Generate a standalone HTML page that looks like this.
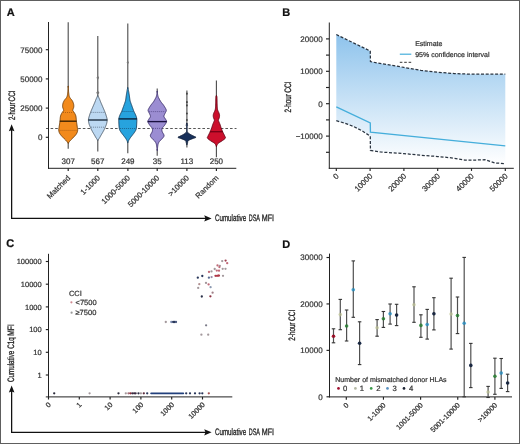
<!DOCTYPE html>
<html><head><meta charset="utf-8"><style>
html,body{margin:0;padding:0;background:#fff;}
#f{position:relative;width:518px;height:442px;border:1px solid #5e5e5e;overflow:hidden;}
svg{position:absolute;left:-1px;top:-1px;will-change:transform;text-rendering:geometricPrecision;}
</style></head><body><div id="f">
<svg width="520" height="444" viewBox="0 0 520 444" font-family="Liberation Sans, sans-serif">
<text x="6.7" y="15.7" font-size="11" fill="#111" stroke="#111" stroke-width="0.22" font-weight="bold">A</text>
<line x1="46" y1="128.5" x2="236.5" y2="128.5" stroke="#444" stroke-width="0.9" stroke-dasharray="2.6,2"/>
<line x1="68.2" y1="22.2" x2="68.2" y2="87.5" stroke="#4a4a4a" stroke-width="1.1"/>
<line x1="68.2" y1="141.8" x2="68.2" y2="148.8" stroke="#4a4a4a" stroke-width="1.1"/>
<polygon points="68.35,86.00 68.35,86.54 68.35,87.30 68.35,88.20 68.40,89.14 68.45,90.04 68.50,90.80 68.55,91.44 68.61,92.02 68.67,92.56 68.73,93.07 68.79,93.54 68.85,94.00 68.91,94.43 68.96,94.82 69.02,95.19 69.08,95.53 69.15,95.87 69.25,96.20 69.36,96.52 69.49,96.83 69.63,97.13 69.79,97.41 69.96,97.70 70.15,98.00 70.37,98.30 70.62,98.60 70.89,98.90 71.16,99.20 71.42,99.50 71.65,99.80 71.86,100.09 72.05,100.37 72.24,100.64 72.41,100.93 72.58,101.25 72.75,101.60 72.92,102.00 73.09,102.43 73.26,102.89 73.42,103.37 73.55,103.84 73.65,104.30 73.72,104.76 73.77,105.22 73.80,105.68 73.81,106.14 73.79,106.58 73.75,107.00 73.67,107.40 73.56,107.80 73.42,108.18 73.28,108.54 73.15,108.89 73.05,109.20 72.97,109.48 72.89,109.71 72.83,109.92 72.79,110.13 72.79,110.35 72.85,110.60 72.98,110.86 73.16,111.10 73.38,111.36 73.63,111.65 73.89,111.99 74.15,112.40 74.42,112.88 74.73,113.40 75.04,113.97 75.35,114.60 75.63,115.28 75.85,116.00 76.01,116.80 76.12,117.67 76.21,118.59 76.28,119.53 76.35,120.48 76.45,121.40 76.58,122.32 76.72,123.26 76.86,124.21 77.01,125.13 77.14,126.00 77.25,126.80 77.36,127.52 77.48,128.17 77.58,128.77 77.66,129.34 77.69,129.91 77.65,130.50 77.55,131.09 77.41,131.67 77.23,132.25 76.99,132.83 76.70,133.41 76.35,134.00 75.92,134.62 75.41,135.26 74.84,135.90 74.25,136.53 73.68,137.14 73.15,137.70 72.66,138.22 72.17,138.71 71.69,139.17 71.24,139.60 70.82,140.01 70.45,140.40 70.12,140.76 69.83,141.09 69.58,141.40 69.35,141.69 69.14,141.95 68.95,142.20 68.78,142.44 68.63,142.66 68.51,142.86 68.40,143.04 68.35,143.19 68.35,143.30 68.05,143.30 68.05,143.19 68.00,143.04 67.89,142.86 67.77,142.66 67.62,142.44 67.45,142.20 67.26,141.95 67.05,141.69 66.83,141.40 66.57,141.09 66.28,140.76 65.95,140.40 65.58,140.01 65.16,139.60 64.71,139.17 64.23,138.71 63.74,138.22 63.25,137.70 62.72,137.14 62.15,136.53 61.56,135.90 60.99,135.26 60.48,134.62 60.05,134.00 59.70,133.41 59.41,132.83 59.17,132.25 58.99,131.67 58.85,131.09 58.75,130.50 58.71,129.91 58.74,129.34 58.82,128.77 58.92,128.17 59.04,127.52 59.15,126.80 59.26,126.00 59.39,125.13 59.54,124.21 59.68,123.26 59.82,122.32 59.95,121.40 60.05,120.48 60.12,119.53 60.19,118.59 60.28,117.67 60.39,116.80 60.55,116.00 60.77,115.28 61.05,114.60 61.36,113.97 61.67,113.40 61.98,112.88 62.25,112.40 62.51,111.99 62.77,111.65 63.02,111.36 63.24,111.10 63.42,110.86 63.55,110.60 63.61,110.35 63.61,110.13 63.58,109.92 63.51,109.71 63.43,109.48 63.35,109.20 63.25,108.89 63.12,108.54 62.98,108.18 62.84,107.80 62.73,107.40 62.65,107.00 62.61,106.58 62.59,106.14 62.60,105.68 62.63,105.22 62.68,104.76 62.75,104.30 62.85,103.84 62.98,103.37 63.14,102.89 63.31,102.43 63.48,102.00 63.65,101.60 63.82,101.25 63.99,100.93 64.16,100.64 64.35,100.37 64.54,100.09 64.75,99.80 64.98,99.50 65.24,99.20 65.51,98.90 65.78,98.60 66.03,98.30 66.25,98.00 66.44,97.70 66.61,97.41 66.77,97.13 66.91,96.83 67.04,96.52 67.15,96.20 67.25,95.87 67.32,95.53 67.38,95.19 67.44,94.82 67.49,94.43 67.55,94.00 67.61,93.54 67.67,93.07 67.73,92.56 67.79,92.02 67.85,91.44 67.90,90.80 67.95,90.04 68.00,89.14 68.05,88.20 68.05,87.30 68.05,86.54 68.05,86.00" fill="#f28a1c" stroke="#6e3c08" stroke-width="0.9" stroke-linejoin="round"/>
<line x1="62.99" y1="112.5" x2="73.41" y2="112.5" stroke="#8a4a10" stroke-width="0.6" stroke-dasharray="1,1"/>
<line x1="59.54" y1="130.4" x2="76.86" y2="130.4" stroke="#8a4a10" stroke-width="0.6" stroke-dasharray="1,1"/>
<line x1="59.77" y1="121.2" x2="76.63" y2="121.2" stroke="#3a2000" stroke-width="1.35"/>
<line x1="97.8" y1="35.9" x2="97.8" y2="97.0" stroke="#4a4a4a" stroke-width="1.1"/>
<polygon points="97.8,75.5 99.1,77.7 97.8,79.9 96.5,77.7" fill="#777"/>
<polygon points="97.8,90.6 99.39999999999999,92.8 97.8,95.0 96.2,92.8" fill="#777"/>
<line x1="97.8" y1="139.1" x2="97.8" y2="151.6" stroke="#4a4a4a" stroke-width="1.1"/>
<polygon points="97.95,95.50 97.95,95.65 98.02,95.86 98.13,96.10 98.26,96.38 98.40,96.68 98.55,97.00 98.71,97.35 98.89,97.73 99.08,98.13 99.28,98.55 99.47,98.98 99.65,99.40 99.82,99.82 99.98,100.24 100.14,100.66 100.30,101.10 100.47,101.54 100.65,102.00 100.85,102.47 101.05,102.95 101.27,103.44 101.49,103.95 101.72,104.47 101.95,105.00 102.19,105.56 102.44,106.14 102.69,106.73 102.95,107.33 103.20,107.92 103.45,108.50 103.69,109.06 103.93,109.60 104.16,110.14 104.39,110.68 104.62,111.23 104.85,111.80 105.08,112.39 105.30,112.99 105.52,113.59 105.74,114.21 105.95,114.85 106.15,115.50 106.35,116.18 106.56,116.88 106.76,117.59 106.94,118.31 107.07,119.02 107.15,119.70 107.16,120.36 107.12,121.01 107.04,121.66 106.92,122.29 106.79,122.90 106.65,123.50 106.49,124.09 106.30,124.66 106.09,125.22 105.88,125.76 105.66,126.29 105.45,126.80 105.25,127.28 105.06,127.74 104.87,128.18 104.67,128.61 104.47,129.05 104.25,129.50 104.02,129.96 103.78,130.43 103.52,130.90 103.27,131.37 103.01,131.84 102.75,132.30 102.49,132.76 102.22,133.21 101.95,133.66 101.68,134.10 101.41,134.55 101.15,135.00 100.89,135.46 100.63,135.94 100.37,136.42 100.12,136.88 99.88,137.31 99.65,137.70 99.44,138.03 99.24,138.33 99.05,138.59 98.87,138.83 98.71,139.06 98.55,139.30 98.40,139.55 98.26,139.80 98.13,140.05 98.02,140.27 97.95,140.46 97.95,140.60 97.65,140.60 97.65,140.46 97.58,140.27 97.47,140.05 97.34,139.80 97.20,139.55 97.05,139.30 96.89,139.06 96.73,138.83 96.55,138.59 96.36,138.33 96.16,138.03 95.95,137.70 95.72,137.31 95.48,136.88 95.23,136.42 94.97,135.94 94.71,135.46 94.45,135.00 94.19,134.55 93.92,134.10 93.65,133.66 93.38,133.21 93.11,132.76 92.85,132.30 92.59,131.84 92.33,131.37 92.08,130.90 91.82,130.43 91.58,129.96 91.35,129.50 91.13,129.05 90.93,128.61 90.73,128.18 90.54,127.74 90.35,127.28 90.15,126.80 89.94,126.29 89.72,125.76 89.51,125.22 89.30,124.66 89.11,124.09 88.95,123.50 88.81,122.90 88.68,122.29 88.56,121.66 88.48,121.01 88.44,120.36 88.45,119.70 88.53,119.02 88.66,118.31 88.84,117.59 89.04,116.88 89.25,116.18 89.45,115.50 89.65,114.85 89.86,114.21 90.08,113.59 90.30,112.99 90.52,112.39 90.75,111.80 90.98,111.23 91.21,110.68 91.44,110.14 91.67,109.60 91.91,109.06 92.15,108.50 92.40,107.92 92.65,107.33 92.91,106.73 93.16,106.14 93.41,105.56 93.65,105.00 93.88,104.47 94.11,103.95 94.33,103.44 94.55,102.95 94.75,102.47 94.95,102.00 95.13,101.54 95.30,101.10 95.46,100.66 95.62,100.24 95.78,99.82 95.95,99.40 96.13,98.98 96.32,98.55 96.52,98.13 96.71,97.73 96.89,97.35 97.05,97.00 97.20,96.68 97.34,96.38 97.47,96.10 97.58,95.86 97.65,95.65 97.65,95.50" fill="#bcd8f2" stroke="#4a5866" stroke-width="0.9" stroke-linejoin="round"/>
<line x1="91.32" y1="112.4" x2="104.28" y2="112.4" stroke="#3a4a5a" stroke-width="0.6" stroke-dasharray="1,1"/>
<line x1="91.11" y1="127.2" x2="104.49" y2="127.2" stroke="#3a4a5a" stroke-width="0.6" stroke-dasharray="1,1"/>
<line x1="88.24" y1="120.0" x2="107.36" y2="120.0" stroke="#1a2a3a" stroke-width="1.35"/>
<line x1="127.8" y1="23.6" x2="127.8" y2="89.0" stroke="#4a4a4a" stroke-width="1.1"/>
<polygon points="127.8,60.3 128.8,62.5 127.8,64.7 126.8,62.5" fill="#777"/>
<line x1="127.8" y1="141.3" x2="127.8" y2="153.3" stroke="#4a4a4a" stroke-width="1.1"/>
<polygon points="127.95,87.50 127.95,87.67 127.95,87.88 128.01,88.14 128.09,88.45 128.17,88.80 128.25,89.20 128.34,89.65 128.44,90.16 128.54,90.72 128.64,91.30 128.75,91.90 128.85,92.50 128.95,93.10 129.05,93.71 129.15,94.34 129.25,94.99 129.35,95.64 129.45,96.30 129.55,97.00 129.64,97.73 129.74,98.48 129.84,99.21 129.94,99.89 130.05,100.50 130.17,101.02 130.30,101.46 130.43,101.86 130.57,102.23 130.71,102.60 130.85,103.00 130.99,103.42 131.14,103.83 131.29,104.25 131.45,104.67 131.60,105.08 131.75,105.50 131.90,105.91 132.04,106.30 132.18,106.69 132.32,107.09 132.48,107.53 132.65,108.00 132.84,108.53 133.04,109.09 133.25,109.69 133.47,110.30 133.71,110.91 133.95,111.50 134.22,112.08 134.51,112.66 134.81,113.24 135.11,113.83 135.40,114.41 135.65,115.00 135.88,115.59 136.10,116.17 136.31,116.75 136.49,117.34 136.64,117.96 136.75,118.60 136.82,119.26 136.85,119.93 136.85,120.61 136.83,121.33 136.79,122.09 136.75,122.90 136.71,123.81 136.65,124.82 136.59,125.88 136.50,126.91 136.39,127.87 136.25,128.70 136.08,129.37 135.88,129.94 135.66,130.42 135.41,130.87 135.14,131.32 134.85,131.80 134.53,132.31 134.17,132.82 133.79,133.33 133.41,133.83 133.02,134.32 132.65,134.80 132.29,135.27 131.92,135.74 131.56,136.19 131.20,136.64 130.86,137.08 130.55,137.50 130.26,137.91 129.98,138.32 129.72,138.71 129.48,139.09 129.25,139.46 129.05,139.80 128.87,140.12 128.72,140.43 128.58,140.71 128.46,140.99 128.35,141.25 128.25,141.50 128.16,141.75 128.07,142.01 128.00,142.26 127.95,142.48 127.95,142.66 127.95,142.80 127.65,142.80 127.65,142.66 127.65,142.48 127.60,142.26 127.53,142.01 127.44,141.75 127.35,141.50 127.25,141.25 127.14,140.99 127.02,140.71 126.88,140.43 126.73,140.12 126.55,139.80 126.35,139.46 126.12,139.09 125.88,138.71 125.62,138.32 125.34,137.91 125.05,137.50 124.74,137.08 124.40,136.64 124.04,136.19 123.68,135.74 123.31,135.27 122.95,134.80 122.58,134.32 122.19,133.83 121.81,133.33 121.43,132.82 121.07,132.31 120.75,131.80 120.46,131.32 120.19,130.87 119.94,130.42 119.72,129.94 119.52,129.37 119.35,128.70 119.21,127.87 119.10,126.91 119.01,125.88 118.95,124.82 118.89,123.81 118.85,122.90 118.81,122.09 118.77,121.33 118.75,120.61 118.75,119.93 118.78,119.26 118.85,118.60 118.96,117.96 119.11,117.34 119.29,116.75 119.50,116.17 119.72,115.59 119.95,115.00 120.20,114.41 120.49,113.83 120.79,113.24 121.09,112.66 121.38,112.08 121.65,111.50 121.89,110.91 122.13,110.30 122.35,109.69 122.56,109.09 122.76,108.53 122.95,108.00 123.12,107.53 123.28,107.09 123.42,106.69 123.56,106.30 123.70,105.91 123.85,105.50 124.00,105.08 124.15,104.67 124.31,104.25 124.46,103.83 124.61,103.42 124.75,103.00 124.89,102.60 125.03,102.23 125.17,101.86 125.30,101.46 125.43,101.02 125.55,100.50 125.66,99.89 125.76,99.21 125.86,98.48 125.96,97.73 126.05,97.00 126.15,96.30 126.25,95.64 126.35,94.99 126.45,94.34 126.55,93.71 126.65,93.10 126.75,92.50 126.85,91.90 126.96,91.30 127.06,90.72 127.16,90.16 127.26,89.65 127.35,89.20 127.43,88.80 127.51,88.45 127.59,88.14 127.65,87.88 127.65,87.67 127.65,87.50" fill="#27a3de" stroke="#143c5c" stroke-width="0.9" stroke-linejoin="round"/>
<line x1="122.45" y1="111.5" x2="133.15" y2="111.5" stroke="#143c5c" stroke-width="0.6" stroke-dasharray="1,1"/>
<line x1="120.12" y1="128.5" x2="135.48" y2="128.5" stroke="#143c5c" stroke-width="0.6" stroke-dasharray="1,1"/>
<line x1="118.62" y1="118.9" x2="136.98" y2="118.9" stroke="#0a2038" stroke-width="1.35"/>
<line x1="157.2" y1="88.4" x2="157.2" y2="92.5" stroke="#4a4a4a" stroke-width="1.1"/>
<line x1="157.2" y1="149.0" x2="157.2" y2="155.8" stroke="#4a4a4a" stroke-width="1.1"/>
<polygon points="157.35,91.00 157.35,91.38 157.35,91.92 157.35,92.56 157.40,93.22 157.50,93.86 157.60,94.40 157.69,94.86 157.78,95.29 157.87,95.68 157.96,96.05 158.06,96.39 158.15,96.70 158.23,96.95 158.29,97.12 158.36,97.27 158.44,97.43 158.57,97.66 158.75,98.00 158.99,98.47 159.28,99.03 159.61,99.66 159.97,100.31 160.35,100.97 160.75,101.60 161.18,102.20 161.65,102.80 162.14,103.40 162.63,104.00 163.11,104.60 163.55,105.20 163.97,105.82 164.39,106.46 164.79,107.10 165.16,107.72 165.49,108.29 165.75,108.80 165.95,109.21 166.11,109.55 166.22,109.84 166.29,110.12 166.30,110.43 166.25,110.80 166.12,111.25 165.91,111.74 165.64,112.26 165.35,112.79 165.08,113.31 164.85,113.80 164.64,114.27 164.42,114.72 164.21,115.17 164.05,115.61 163.95,116.05 163.95,116.50 164.08,116.95 164.32,117.41 164.63,117.87 164.97,118.32 165.29,118.77 165.55,119.20 165.78,119.60 166.04,119.98 166.27,120.34 166.45,120.72 166.56,121.13 166.55,121.60 166.41,122.14 166.15,122.73 165.82,123.35 165.44,123.99 165.03,124.61 164.65,125.20 164.24,125.76 163.77,126.30 163.28,126.83 162.82,127.36 162.43,127.88 162.15,128.40 161.98,128.91 161.89,129.40 161.88,129.89 161.92,130.40 162.01,130.93 162.15,131.50 162.40,132.14 162.78,132.83 163.22,133.55 163.63,134.27 163.93,134.96 164.05,135.60 163.96,136.18 163.73,136.72 163.39,137.24 162.98,137.73 162.56,138.22 162.15,138.70 161.73,139.17 161.26,139.63 160.77,140.07 160.28,140.51 159.83,140.95 159.45,141.40 159.14,141.84 158.87,142.27 158.64,142.69 158.44,143.13 158.26,143.60 158.10,144.10 157.96,144.66 157.86,145.26 157.77,145.89 157.70,146.53 157.63,147.14 157.55,147.70 157.46,148.25 157.36,148.80 157.35,149.32 157.35,149.80 157.35,150.20 157.35,150.50 157.05,150.50 157.05,150.20 157.05,149.80 157.05,149.32 157.04,148.80 156.94,148.25 156.85,147.70 156.77,147.14 156.70,146.53 156.63,145.89 156.54,145.26 156.44,144.66 156.30,144.10 156.14,143.60 155.96,143.13 155.76,142.69 155.53,142.27 155.26,141.84 154.95,141.40 154.57,140.95 154.12,140.51 153.63,140.07 153.14,139.63 152.67,139.17 152.25,138.70 151.84,138.22 151.42,137.73 151.01,137.24 150.67,136.72 150.44,136.18 150.35,135.60 150.47,134.96 150.77,134.27 151.18,133.55 151.62,132.83 152.00,132.14 152.25,131.50 152.39,130.93 152.48,130.40 152.52,129.89 152.51,129.40 152.42,128.91 152.25,128.40 151.97,127.88 151.58,127.36 151.12,126.83 150.63,126.30 150.16,125.76 149.75,125.20 149.37,124.61 148.96,123.99 148.58,123.35 148.25,122.73 147.99,122.14 147.85,121.60 147.84,121.13 147.95,120.72 148.13,120.34 148.36,119.98 148.62,119.60 148.85,119.20 149.11,118.77 149.43,118.32 149.77,117.87 150.08,117.41 150.32,116.95 150.45,116.50 150.45,116.05 150.35,115.61 150.19,115.17 149.98,114.72 149.76,114.27 149.55,113.80 149.32,113.31 149.05,112.79 148.76,112.26 148.49,111.74 148.28,111.25 148.15,110.80 148.10,110.43 148.11,110.12 148.17,109.84 148.29,109.55 148.45,109.21 148.65,108.80 148.91,108.29 149.24,107.72 149.61,107.10 150.01,106.46 150.43,105.82 150.85,105.20 151.29,104.60 151.77,104.00 152.26,103.40 152.75,102.80 153.22,102.20 153.65,101.60 154.05,100.97 154.43,100.31 154.79,99.66 155.12,99.03 155.41,98.47 155.65,98.00 155.83,97.66 155.96,97.43 156.04,97.27 156.11,97.12 156.17,96.95 156.25,96.70 156.34,96.39 156.44,96.05 156.53,95.68 156.62,95.29 156.71,94.86 156.80,94.40 156.90,93.86 157.00,93.22 157.05,92.56 157.05,91.92 157.05,91.38 157.05,91.00" fill="#9b8dd2" stroke="#3a2c6a" stroke-width="0.9" stroke-linejoin="round"/>
<line x1="149.23" y1="111.6" x2="165.17" y2="111.6" stroke="#3a2c6a" stroke-width="0.6" stroke-dasharray="1,1"/>
<line x1="153.05" y1="128.4" x2="161.35" y2="128.4" stroke="#3a2c6a" stroke-width="0.6" stroke-dasharray="1,1"/>
<line x1="147.65" y1="121.6" x2="166.75" y2="121.6" stroke="#1a1040" stroke-width="1.35"/>
<ellipse cx="186.9" cy="93.7" rx="0.9" ry="1.1" fill="#333"/>
<ellipse cx="186.9" cy="102.2" rx="0.9" ry="1.1" fill="#333"/>
<ellipse cx="186.9" cy="105.4" rx="0.9" ry="1.1" fill="#333"/>
<ellipse cx="186.9" cy="113.5" rx="0.9" ry="1.1" fill="#333"/>
<ellipse cx="186.9" cy="120" rx="0.9" ry="1.1" fill="#333"/>
<line x1="186.9" y1="90.5" x2="186.9" y2="124.5" stroke="#4a4a4a" stroke-width="1.1"/>
<line x1="186.9" y1="143.3" x2="186.9" y2="147.5" stroke="#4a4a4a" stroke-width="1.1"/>
<polygon points="187.05,123.00 187.05,123.24 187.05,123.59 187.18,123.99 187.35,124.41 187.49,124.83 187.55,125.20 187.53,125.51 187.44,125.79 187.32,126.05 187.19,126.33 187.07,126.64 187.05,127.00 187.05,127.44 187.05,127.93 187.05,128.46 187.05,129.00 187.05,129.52 187.05,130.00 187.09,130.44 187.13,130.86 187.18,131.26 187.27,131.64 187.42,132.02 187.65,132.40 187.98,132.77 188.39,133.13 188.87,133.49 189.38,133.83 189.92,134.17 190.45,134.50 191.01,134.83 191.63,135.15 192.26,135.46 192.88,135.76 193.45,136.04 193.95,136.30 194.42,136.52 194.90,136.70 195.34,136.87 195.67,137.03 195.85,137.20 195.80,137.40 195.47,137.62 194.90,137.86 194.17,138.11 193.36,138.36 192.56,138.63 191.85,138.90 191.20,139.17 190.52,139.45 189.85,139.74 189.23,140.04 188.68,140.36 188.25,140.70 187.95,141.09 187.77,141.51 187.67,141.96 187.61,142.41 187.55,142.83 187.45,143.20 187.32,143.54 187.18,143.86 187.05,144.16 187.05,144.42 187.05,144.64 187.05,144.80 186.75,144.80 186.75,144.64 186.75,144.42 186.75,144.16 186.62,143.86 186.48,143.54 186.35,143.20 186.25,142.83 186.19,142.41 186.13,141.96 186.03,141.51 185.85,141.09 185.55,140.70 185.12,140.36 184.57,140.04 183.95,139.74 183.28,139.45 182.60,139.17 181.95,138.90 181.24,138.63 180.44,138.36 179.63,138.11 178.90,137.86 178.33,137.62 178.00,137.40 177.95,137.20 178.13,137.03 178.46,136.87 178.90,136.70 179.38,136.52 179.85,136.30 180.35,136.04 180.92,135.76 181.54,135.46 182.17,135.15 182.79,134.83 183.35,134.50 183.88,134.17 184.42,133.83 184.93,133.49 185.41,133.13 185.82,132.77 186.15,132.40 186.38,132.02 186.53,131.64 186.62,131.26 186.67,130.86 186.71,130.44 186.75,130.00 186.75,129.52 186.75,129.00 186.75,128.46 186.75,127.93 186.75,127.44 186.75,127.00 186.73,126.64 186.61,126.33 186.48,126.05 186.36,125.79 186.27,125.51 186.25,125.20 186.31,124.83 186.45,124.41 186.62,123.99 186.75,123.59 186.75,123.24 186.75,123.00" fill="#17305a" stroke="#0a1a34" stroke-width="0.9" stroke-linejoin="round"/>
<line x1="216.4" y1="80.4" x2="216.4" y2="97.0" stroke="#4a4a4a" stroke-width="1.1"/>
<line x1="216.4" y1="145.1" x2="216.4" y2="157.3" stroke="#4a4a4a" stroke-width="1.1"/>
<polygon points="216.55,95.50 216.55,95.65 216.59,95.83 216.69,96.06 216.79,96.33 216.88,96.65 216.95,97.00 216.99,97.39 217.01,97.81 217.03,98.28 217.03,98.80 217.04,99.37 217.05,100.00 217.06,100.73 217.08,101.56 217.09,102.44 217.10,103.33 217.12,104.20 217.15,105.00 217.18,105.75 217.22,106.47 217.26,107.17 217.31,107.84 217.37,108.45 217.45,109.00 217.54,109.47 217.65,109.87 217.76,110.22 217.89,110.55 218.02,110.87 218.15,111.20 218.29,111.54 218.45,111.88 218.61,112.21 218.77,112.54 218.92,112.87 219.05,113.20 219.16,113.53 219.27,113.86 219.37,114.18 219.45,114.51 219.51,114.85 219.55,115.20 219.56,115.57 219.56,115.95 219.53,116.34 219.49,116.74 219.43,117.12 219.35,117.50 219.24,117.87 219.10,118.26 218.94,118.63 218.79,118.99 218.65,119.32 218.55,119.60 218.48,119.82 218.43,119.98 218.40,120.11 218.39,120.24 218.41,120.39 218.45,120.60 218.53,120.86 218.64,121.14 218.78,121.45 218.94,121.78 219.09,122.13 219.25,122.50 219.40,122.88 219.56,123.29 219.73,123.71 219.90,124.15 220.08,124.61 220.25,125.10 220.42,125.61 220.59,126.16 220.76,126.72 220.94,127.30 221.14,127.90 221.35,128.50 221.58,129.12 221.84,129.77 222.10,130.42 222.38,131.09 222.66,131.75 222.95,132.40 223.27,133.06 223.61,133.74 223.97,134.42 224.31,135.07 224.61,135.67 224.85,136.20 225.05,136.63 225.24,136.98 225.39,137.27 225.47,137.56 225.45,137.85 225.30,138.20 224.99,138.60 224.54,139.03 223.99,139.47 223.38,139.93 222.75,140.37 222.15,140.80 221.53,141.22 220.84,141.64 220.13,142.05 219.46,142.45 218.85,142.84 218.35,143.20 217.98,143.54 217.71,143.85 217.50,144.15 217.34,144.44 217.20,144.72 217.05,145.00 216.90,145.30 216.78,145.61 216.67,145.91 216.58,146.19 216.55,146.43 216.55,146.60 216.25,146.60 216.25,146.43 216.22,146.19 216.13,145.91 216.02,145.61 215.90,145.30 215.75,145.00 215.60,144.72 215.46,144.44 215.30,144.15 215.09,143.85 214.82,143.54 214.45,143.20 213.95,142.84 213.34,142.45 212.67,142.05 211.96,141.64 211.27,141.22 210.65,140.80 210.05,140.37 209.42,139.93 208.81,139.47 208.26,139.03 207.81,138.60 207.50,138.20 207.35,137.85 207.33,137.56 207.41,137.27 207.56,136.98 207.75,136.63 207.95,136.20 208.19,135.67 208.49,135.07 208.83,134.42 209.19,133.74 209.53,133.06 209.85,132.40 210.14,131.75 210.42,131.09 210.70,130.42 210.96,129.77 211.22,129.12 211.45,128.50 211.66,127.90 211.86,127.30 212.04,126.72 212.21,126.16 212.38,125.61 212.55,125.10 212.72,124.61 212.90,124.15 213.07,123.71 213.24,123.29 213.40,122.88 213.55,122.50 213.71,122.13 213.86,121.78 214.02,121.45 214.16,121.14 214.27,120.86 214.35,120.60 214.39,120.39 214.41,120.24 214.40,120.11 214.37,119.98 214.32,119.82 214.25,119.60 214.15,119.32 214.01,118.99 213.86,118.63 213.70,118.26 213.56,117.87 213.45,117.50 213.37,117.12 213.31,116.74 213.27,116.34 213.24,115.95 213.24,115.57 213.25,115.20 213.29,114.85 213.35,114.51 213.43,114.18 213.53,113.86 213.64,113.53 213.75,113.20 213.88,112.87 214.03,112.54 214.19,112.21 214.35,111.88 214.51,111.54 214.65,111.20 214.78,110.87 214.91,110.55 215.04,110.22 215.15,109.87 215.26,109.47 215.35,109.00 215.43,108.45 215.49,107.84 215.54,107.17 215.58,106.47 215.62,105.75 215.65,105.00 215.68,104.20 215.70,103.33 215.71,102.44 215.72,101.56 215.74,100.73 215.75,100.00 215.76,99.37 215.77,98.80 215.78,98.28 215.79,97.81 215.81,97.39 215.85,97.00 215.92,96.65 216.01,96.33 216.11,96.06 216.21,95.83 216.25,95.65 216.25,95.50" fill="#cc0f2c" stroke="#600012" stroke-width="0.9" stroke-linejoin="round"/>
<line x1="209.96" y1="131.7" x2="222.84" y2="131.7" stroke="#7a0016" stroke-width="1.35"/>
<line x1="48.5" y1="22" x2="48.5" y2="168.8" stroke="#222" stroke-width="1"/>
<line x1="48.0" y1="168.3" x2="236.3" y2="168.3" stroke="#222" stroke-width="1"/>
<line x1="45.8" y1="49.70000000000002" x2="48.5" y2="49.70000000000002" stroke="#222" stroke-width="1.15"/>
<text x="42.5" y="52.500000000000014" font-size="8" fill="#333" stroke="#333" stroke-width="0.22" text-anchor="end">75000</text>
<line x1="45.8" y1="78.9" x2="48.5" y2="78.9" stroke="#222" stroke-width="1.15"/>
<text x="42.5" y="81.7" font-size="8" fill="#333" stroke="#333" stroke-width="0.22" text-anchor="end">50000</text>
<line x1="45.8" y1="108.10000000000001" x2="48.5" y2="108.10000000000001" stroke="#222" stroke-width="1.15"/>
<text x="42.5" y="110.9" font-size="8" fill="#333" stroke="#333" stroke-width="0.22" text-anchor="end">25000</text>
<line x1="45.8" y1="137.3" x2="48.5" y2="137.3" stroke="#222" stroke-width="1.15"/>
<text x="42.5" y="140.10000000000002" font-size="8" fill="#333" stroke="#333" stroke-width="0.22" text-anchor="end">0</text>
<line x1="68.2" y1="168.3" x2="68.2" y2="171.10000000000002" stroke="#222" stroke-width="1.15"/>
<text x="68.2" y="163.9" font-size="8" fill="#333" stroke="#333" stroke-width="0.22" text-anchor="middle">307</text>
<text transform="translate(70.9,178.4) rotate(-45)" font-size="7.7" fill="#333" stroke="#333" stroke-width="0.22" text-anchor="end">Matched</text>
<line x1="97.8" y1="168.3" x2="97.8" y2="171.10000000000002" stroke="#222" stroke-width="1.15"/>
<text x="97.8" y="163.9" font-size="8" fill="#333" stroke="#333" stroke-width="0.22" text-anchor="middle">567</text>
<text transform="translate(100.5,178.4) rotate(-45)" font-size="7.7" fill="#333" stroke="#333" stroke-width="0.22" text-anchor="end">1-1000</text>
<line x1="127.9" y1="168.3" x2="127.9" y2="171.10000000000002" stroke="#222" stroke-width="1.15"/>
<text x="127.9" y="163.9" font-size="8" fill="#333" stroke="#333" stroke-width="0.22" text-anchor="middle">249</text>
<text transform="translate(130.6,178.4) rotate(-45)" font-size="7.7" fill="#333" stroke="#333" stroke-width="0.22" text-anchor="end">1000-5000</text>
<line x1="157.2" y1="168.3" x2="157.2" y2="171.10000000000002" stroke="#222" stroke-width="1.15"/>
<text x="157.2" y="163.9" font-size="8" fill="#333" stroke="#333" stroke-width="0.22" text-anchor="middle">35</text>
<text transform="translate(159.89999999999998,178.4) rotate(-45)" font-size="7.7" fill="#333" stroke="#333" stroke-width="0.22" text-anchor="end">5000-10000</text>
<line x1="186.9" y1="168.3" x2="186.9" y2="171.10000000000002" stroke="#222" stroke-width="1.15"/>
<text x="186.9" y="163.9" font-size="8" fill="#333" stroke="#333" stroke-width="0.22" text-anchor="middle">113</text>
<text transform="translate(189.6,178.4) rotate(-45)" font-size="7.7" fill="#333" stroke="#333" stroke-width="0.22" text-anchor="end">&gt;10000</text>
<line x1="216.4" y1="168.3" x2="216.4" y2="171.10000000000002" stroke="#222" stroke-width="1.15"/>
<text x="216.4" y="163.9" font-size="8" fill="#333" stroke="#333" stroke-width="0.22" text-anchor="middle">250</text>
<text transform="translate(219.1,178.4) rotate(-45)" font-size="7.7" fill="#333" stroke="#333" stroke-width="0.22" text-anchor="end">Random</text>
<text x="282.2" y="15.6" font-size="11" fill="#111" stroke="#111" stroke-width="0.22" font-weight="bold">B</text>
<defs><linearGradient id="gB" x1="0" y1="0" x2="0" y2="1" gradientUnits="objectBoundingBox"><stop offset="0" stop-color="#8ec3ec"/><stop offset="1" stop-color="#ffffff"/></linearGradient></defs>
<polygon points="336.30,34.53 370.27,51.05 370.44,61.58 376.86,62.88 387.00,64.50 403.90,67.41 420.80,70.33 437.70,72.27 454.60,73.57 471.50,74.22 488.40,74.22 505.30,74.22 505.30,163.64 495.16,162.99 485.02,159.75 474.88,160.08 464.74,160.08 451.22,157.81 437.70,156.51 420.80,155.22 403.90,153.60 393.76,152.95 380.24,151.98 370.44,150.36 370.27,136.10 361.65,130.59 353.20,126.38 344.75,123.14 336.30,120.71" fill="url(#gB)"/>
<polyline points="336.30,34.53 370.27,51.05 370.44,61.58 376.86,62.88 387.00,64.50 403.90,67.41 420.80,70.33 437.70,72.27 454.60,73.57 471.50,74.22 488.40,74.22 505.30,74.22" fill="none" stroke="#2a3440" stroke-width="1.25" stroke-dasharray="3,1.7"/>
<polyline points="336.30,120.71 344.75,123.14 353.20,126.38 361.65,130.59 370.27,136.10 370.44,150.36 380.24,151.98 393.76,152.95 403.90,153.60 420.80,155.22 437.70,156.51 451.22,157.81 464.74,160.08 474.88,160.08 485.02,159.75 495.16,162.99 505.30,163.64" fill="none" stroke="#2a3440" stroke-width="1.25" stroke-dasharray="3,1.7"/>
<polyline points="336.30,106.94 370.27,122.82 370.44,132.21 505.30,145.82" fill="none" stroke="#45aedb" stroke-width="1.35"/>
<line x1="329.3" y1="22.5" x2="329.3" y2="168.8" stroke="#222" stroke-width="1"/>
<line x1="328.8" y1="168.3" x2="513.8" y2="168.3" stroke="#222" stroke-width="1"/>
<line x1="326" y1="38.900000000000006" x2="329.3" y2="38.900000000000006" stroke="#222" stroke-width="1.15"/>
<text x="322.6" y="41.75000000000001" font-size="8" fill="#333" stroke="#333" stroke-width="0.22" text-anchor="end">20000</text>
<line x1="326" y1="55.10000000000001" x2="329.3" y2="55.10000000000001" stroke="#222" stroke-width="1.15"/>
<line x1="326" y1="71.30000000000001" x2="329.3" y2="71.30000000000001" stroke="#222" stroke-width="1.15"/>
<text x="322.6" y="74.15" font-size="8" fill="#333" stroke="#333" stroke-width="0.22" text-anchor="end">10000</text>
<line x1="326" y1="87.5" x2="329.3" y2="87.5" stroke="#222" stroke-width="1.15"/>
<line x1="326" y1="103.7" x2="329.3" y2="103.7" stroke="#222" stroke-width="1.15"/>
<text x="322.6" y="106.55" font-size="8" fill="#333" stroke="#333" stroke-width="0.22" text-anchor="end">0</text>
<line x1="326" y1="119.9" x2="329.3" y2="119.9" stroke="#222" stroke-width="1.15"/>
<line x1="326" y1="136.1" x2="329.3" y2="136.1" stroke="#222" stroke-width="1.15"/>
<text x="322.6" y="138.95" font-size="8" fill="#333" stroke="#333" stroke-width="0.22" text-anchor="end">&#8722;10000</text>
<line x1="326" y1="152.3" x2="329.3" y2="152.3" stroke="#222" stroke-width="1.15"/>
<line x1="336.3" y1="168.3" x2="336.3" y2="170.9" stroke="#222" stroke-width="1.15"/>
<text transform="translate(339.2,176.7) rotate(-45)" font-size="7.8" fill="#333" stroke="#333" stroke-width="0.22" text-anchor="end">0</text>
<line x1="370.1" y1="168.3" x2="370.1" y2="170.9" stroke="#222" stroke-width="1.15"/>
<text transform="translate(373.0,176.7) rotate(-45)" font-size="7.8" fill="#333" stroke="#333" stroke-width="0.22" text-anchor="end">10000</text>
<line x1="403.9" y1="168.3" x2="403.9" y2="170.9" stroke="#222" stroke-width="1.15"/>
<text transform="translate(406.79999999999995,176.7) rotate(-45)" font-size="7.8" fill="#333" stroke="#333" stroke-width="0.22" text-anchor="end">20000</text>
<line x1="437.7" y1="168.3" x2="437.7" y2="170.9" stroke="#222" stroke-width="1.15"/>
<text transform="translate(440.59999999999997,176.7) rotate(-45)" font-size="7.8" fill="#333" stroke="#333" stroke-width="0.22" text-anchor="end">30000</text>
<line x1="471.5" y1="168.3" x2="471.5" y2="170.9" stroke="#222" stroke-width="1.15"/>
<text transform="translate(474.4,176.7) rotate(-45)" font-size="7.8" fill="#333" stroke="#333" stroke-width="0.22" text-anchor="end">40000</text>
<line x1="505.3" y1="168.3" x2="505.3" y2="170.9" stroke="#222" stroke-width="1.15"/>
<text transform="translate(508.2,176.7) rotate(-45)" font-size="7.8" fill="#333" stroke="#333" stroke-width="0.22" text-anchor="end">50000</text>
<text x="415.2" y="45.6" font-size="7" fill="#333" stroke="#333" stroke-width="0.22">Estimate</text>
<text x="415.2" y="56.5" font-size="7" fill="#333" stroke="#333" stroke-width="0.22">95% confidence interval</text>
<line x1="399.8" y1="54.2" x2="411.3" y2="54.2" stroke="#45aedb" stroke-width="1.2"/>
<line x1="399.8" y1="62.3" x2="411.3" y2="62.3" stroke="#333" stroke-width="1" stroke-dasharray="2.6,1.8"/>
<text x="6.2" y="247.3" font-size="11" fill="#111" stroke="#111" stroke-width="0.22" font-weight="bold">C</text>
<line x1="48.5" y1="253.8" x2="48.5" y2="397.4" stroke="#222" stroke-width="1"/>
<line x1="45.8" y1="396.9" x2="232.3" y2="396.9" stroke="#222" stroke-width="1"/>
<line x1="45.8" y1="261.5" x2="48.5" y2="261.5" stroke="#222" stroke-width="1.15"/>
<text x="41.7" y="264.1" font-size="7.5" fill="#333" stroke="#333" stroke-width="0.22" text-anchor="end">100000</text>
<line x1="45.8" y1="284.2" x2="48.5" y2="284.2" stroke="#222" stroke-width="1.15"/>
<text x="41.7" y="286.8" font-size="7.5" fill="#333" stroke="#333" stroke-width="0.22" text-anchor="end">10000</text>
<line x1="45.8" y1="306.9" x2="48.5" y2="306.9" stroke="#222" stroke-width="1.15"/>
<text x="41.7" y="309.5" font-size="7.5" fill="#333" stroke="#333" stroke-width="0.22" text-anchor="end">1000</text>
<line x1="45.8" y1="329.6" x2="48.5" y2="329.6" stroke="#222" stroke-width="1.15"/>
<text x="41.7" y="332.20000000000005" font-size="7.5" fill="#333" stroke="#333" stroke-width="0.22" text-anchor="end">100</text>
<line x1="45.8" y1="352.3" x2="48.5" y2="352.3" stroke="#222" stroke-width="1.15"/>
<text x="41.7" y="354.90000000000003" font-size="7.5" fill="#333" stroke="#333" stroke-width="0.22" text-anchor="end">10</text>
<line x1="45.8" y1="375.0" x2="48.5" y2="375.0" stroke="#222" stroke-width="1.15"/>
<text x="41.7" y="377.6" font-size="7.5" fill="#333" stroke="#333" stroke-width="0.22" text-anchor="end">1</text>
<line x1="48.5" y1="396.9" x2="48.5" y2="399.5" stroke="#222" stroke-width="1.15"/>
<text transform="translate(51.4,405.2) rotate(-45)" font-size="7.2" fill="#333" stroke="#333" stroke-width="0.22" text-anchor="end">0</text>
<line x1="79.3" y1="396.9" x2="79.3" y2="399.5" stroke="#222" stroke-width="1.15"/>
<text transform="translate(82.2,405.2) rotate(-45)" font-size="7.2" fill="#333" stroke="#333" stroke-width="0.22" text-anchor="end">1</text>
<line x1="110.1" y1="396.9" x2="110.1" y2="399.5" stroke="#222" stroke-width="1.15"/>
<text transform="translate(113.0,405.2) rotate(-45)" font-size="7.2" fill="#333" stroke="#333" stroke-width="0.22" text-anchor="end">10</text>
<line x1="140.9" y1="396.9" x2="140.9" y2="399.5" stroke="#222" stroke-width="1.15"/>
<text transform="translate(143.8,405.2) rotate(-45)" font-size="7.2" fill="#333" stroke="#333" stroke-width="0.22" text-anchor="end">100</text>
<line x1="171.7" y1="396.9" x2="171.7" y2="399.5" stroke="#222" stroke-width="1.15"/>
<text transform="translate(174.6,405.2) rotate(-45)" font-size="7.2" fill="#333" stroke="#333" stroke-width="0.22" text-anchor="end">1000</text>
<line x1="202.5" y1="396.9" x2="202.5" y2="399.5" stroke="#222" stroke-width="1.15"/>
<text transform="translate(205.4,405.2) rotate(-45)" font-size="7.2" fill="#333" stroke="#333" stroke-width="0.22" text-anchor="end">10000</text>
<text x="68.9" y="295.9" font-size="7.5" fill="#333" stroke="#333" stroke-width="0.22">CCI</text>
<text x="75.5" y="304.6" font-size="7.5" fill="#333" stroke="#333" stroke-width="0.22">&lt;7500</text>
<text x="75.5" y="315" font-size="7.5" fill="#333" stroke="#333" stroke-width="0.22">&#8805;7500</text>
<circle cx="71.4" cy="302.3" r="1.1" fill="#d08890"/>
<circle cx="71.6" cy="312.7" r="1.1" fill="#999"/>
<circle cx="197.8" cy="277.7" r="1.15" fill="#28365a"/>
<circle cx="202.3" cy="276.0" r="1.15" fill="#28365a"/>
<circle cx="208.9" cy="277.7" r="1.15" fill="#5a6a90"/>
<circle cx="211.6" cy="277.1" r="1.15" fill="#9a8aa8"/>
<circle cx="199.3" cy="284.2" r="1.15" fill="#b09090"/>
<circle cx="198.2" cy="287.9" r="1.15" fill="#a3989c"/>
<circle cx="206" cy="282.9" r="1.15" fill="#a3989c"/>
<circle cx="208.6" cy="284.4" r="1.15" fill="#c06a78"/>
<circle cx="210.6" cy="287.2" r="1.15" fill="#8a98b0"/>
<circle cx="209" cy="271.9" r="1.15" fill="#c06a78"/>
<circle cx="211.5" cy="271.4" r="1.15" fill="#a3989c"/>
<circle cx="214.7" cy="269" r="1.15" fill="#a3989c"/>
<circle cx="216.8" cy="270.6" r="1.15" fill="#c06a78"/>
<circle cx="219" cy="270.7" r="1.15" fill="#c06a78"/>
<circle cx="215.5" cy="275.8" r="1.15" fill="#b03848"/>
<circle cx="217.0" cy="275.8" r="1.15" fill="#b03848"/>
<circle cx="218.2" cy="275.6" r="1.15" fill="#b03848"/>
<circle cx="219" cy="275.6" r="1.15" fill="#b03848"/>
<circle cx="223" cy="275.8" r="1.15" fill="#a3989c"/>
<circle cx="217.5" cy="265.4" r="1.15" fill="#c06a78"/>
<circle cx="219.8" cy="265.8" r="1.15" fill="#a3989c"/>
<circle cx="219.4" cy="267.1" r="1.15" fill="#c06a78"/>
<circle cx="222.2" cy="261.1" r="1.15" fill="#a3989c"/>
<circle cx="225.6" cy="260.6" r="1.15" fill="#a04050"/>
<circle cx="227.2" cy="263.2" r="1.15" fill="#c06a78"/>
<circle cx="222.7" cy="268.8" r="1.15" fill="#a3989c"/>
<circle cx="225.5" cy="268.8" r="1.15" fill="#a3989c"/>
<circle cx="201.8" cy="296.5" r="1.15" fill="#2a3048"/>
<circle cx="210.4" cy="296.3" r="1.15" fill="#8a3040"/>
<circle cx="212.6" cy="292.7" r="1.15" fill="#a08088"/>
<circle cx="206.1" cy="325.3" r="1.15" fill="#7a7a88"/>
<circle cx="201.4" cy="334.7" r="1.15" fill="#a3989c"/>
<circle cx="208.2" cy="334.7" r="1.15" fill="#a3989c"/>
<circle cx="165.8" cy="322" r="1.15" fill="#a3989c"/>
<circle cx="171.3" cy="322" r="1.15" fill="#7a8ab0"/>
<circle cx="173.2" cy="322" r="1.15" fill="#28365a"/>
<circle cx="174.6" cy="322" r="1.15" fill="#28365a"/>
<circle cx="176.0" cy="322" r="1.15" fill="#4a5a80"/>
<circle cx="54.2" cy="393.3" r="1.15" fill="#2a2a3a"/>
<circle cx="89.6" cy="393.3" r="1.15" fill="#a3989c"/>
<circle cx="118.5" cy="393.3" r="1.15" fill="#2a2a3a"/>
<circle cx="125.8" cy="393.3" r="1.15" fill="#a3989c"/>
<circle cx="128.5" cy="393.3" r="1.15" fill="#a07078"/>
<circle cx="130.4" cy="393.3" r="1.15" fill="#902838"/>
<circle cx="132.3" cy="393.3" r="1.15" fill="#3a2a40"/>
<circle cx="134.1" cy="393.3" r="1.15" fill="#3a2a40"/>
<circle cx="135.6" cy="393.3" r="1.15" fill="#3a2a40"/>
<circle cx="138.5" cy="393.3" r="1.15" fill="#2a2a40"/>
<circle cx="140.9" cy="393.3" r="1.15" fill="#a3989c"/>
<circle cx="143.8" cy="393.3" r="1.15" fill="#5a2a3a"/>
<circle cx="147.2" cy="393.3" r="1.15" fill="#28365a"/>
<circle cx="186.2" cy="393.3" r="1.15" fill="#28365a"/>
<circle cx="190" cy="393.3" r="1.15" fill="#28365a"/>
<circle cx="195" cy="393.3" r="1.15" fill="#28365a"/>
<circle cx="199.6" cy="393.3" r="1.15" fill="#28365a"/>
<circle cx="202.3" cy="393.3" r="1.15" fill="#28365a"/>
<circle cx="208.8" cy="393.3" r="1.15" fill="#a05050"/>
<rect x="150.2" y="392.4" width="34" height="1.8" rx="0.9" fill="#22407c"/>
<text x="282.2" y="247.6" font-size="11" fill="#111" stroke="#111" stroke-width="0.22" font-weight="bold">D</text>
<line x1="329.5" y1="253.6" x2="329.5" y2="397.4" stroke="#222" stroke-width="1"/>
<line x1="329.0" y1="396.9" x2="512" y2="396.9" stroke="#222" stroke-width="1"/>
<line x1="326.5" y1="257.51" x2="329.5" y2="257.51" stroke="#222" stroke-width="1.15"/>
<text x="322.6" y="260.36" font-size="8" fill="#333" stroke="#333" stroke-width="0.22" text-anchor="end">30000</text>
<line x1="326.5" y1="303.94000000000005" x2="329.5" y2="303.94000000000005" stroke="#222" stroke-width="1.15"/>
<text x="322.6" y="306.7900000000001" font-size="8" fill="#333" stroke="#333" stroke-width="0.22" text-anchor="end">20000</text>
<line x1="326.5" y1="350.37" x2="329.5" y2="350.37" stroke="#222" stroke-width="1.15"/>
<text x="322.6" y="353.22" font-size="8" fill="#333" stroke="#333" stroke-width="0.22" text-anchor="end">10000</text>
<line x1="326.5" y1="396.8" x2="329.5" y2="396.8" stroke="#222" stroke-width="1.15"/>
<text x="322.6" y="399.65000000000003" font-size="8" fill="#333" stroke="#333" stroke-width="0.22" text-anchor="end">0</text>
<line x1="346.3" y1="396.9" x2="346.3" y2="399.7" stroke="#222" stroke-width="1.15"/>
<text transform="translate(349.0,405.7) rotate(-45)" font-size="7.2" fill="#333" stroke="#333" stroke-width="0.22" text-anchor="end">0</text>
<line x1="383.45" y1="396.9" x2="383.45" y2="399.7" stroke="#222" stroke-width="1.15"/>
<text transform="translate(386.15,405.7) rotate(-45)" font-size="7.2" fill="#333" stroke="#333" stroke-width="0.22" text-anchor="end">1-1000</text>
<line x1="420.6" y1="396.9" x2="420.6" y2="399.7" stroke="#222" stroke-width="1.15"/>
<text transform="translate(423.3,405.7) rotate(-45)" font-size="7.2" fill="#333" stroke="#333" stroke-width="0.22" text-anchor="end">1001-5000</text>
<line x1="457.75" y1="396.9" x2="457.75" y2="399.7" stroke="#222" stroke-width="1.15"/>
<text transform="translate(460.45,405.7) rotate(-45)" font-size="7.2" fill="#333" stroke="#333" stroke-width="0.22" text-anchor="end">5001-10000</text>
<line x1="494.9" y1="396.9" x2="494.9" y2="399.7" stroke="#222" stroke-width="1.15"/>
<text transform="translate(497.59999999999997,405.7) rotate(-45)" font-size="7.2" fill="#333" stroke="#333" stroke-width="0.22" text-anchor="end">&gt;10000</text>
<line x1="333.5" y1="328.8" x2="333.5" y2="342.8" stroke="#505050" stroke-width="1.2"/>
<line x1="331.75" y1="328.8" x2="335.25" y2="328.8" stroke="#333" stroke-width="1.1"/>
<line x1="331.75" y1="342.8" x2="335.25" y2="342.8" stroke="#333" stroke-width="1.1"/>
<circle cx="333.5" cy="336.2" r="1.8" fill="#b0142e"/>
<line x1="333.5" y1="334.4" x2="333.5" y2="338.0" stroke="#222" stroke-width="0.8" stroke-opacity="0.45"/>
<line x1="340.3" y1="299.4" x2="340.3" y2="329.7" stroke="#505050" stroke-width="1.2"/>
<line x1="338.55" y1="299.4" x2="342.05" y2="299.4" stroke="#333" stroke-width="1.1"/>
<line x1="338.55" y1="329.7" x2="342.05" y2="329.7" stroke="#333" stroke-width="1.1"/>
<circle cx="340.3" cy="314.6" r="1.8" fill="#d0d4ae"/>
<line x1="340.3" y1="312.8" x2="340.3" y2="316.40000000000003" stroke="#222" stroke-width="0.8" stroke-opacity="0.45"/>
<line x1="346.6" y1="310" x2="346.6" y2="341" stroke="#505050" stroke-width="1.2"/>
<line x1="344.85" y1="310" x2="348.35" y2="310" stroke="#333" stroke-width="1.1"/>
<line x1="344.85" y1="341" x2="348.35" y2="341" stroke="#333" stroke-width="1.1"/>
<circle cx="346.6" cy="326" r="1.8" fill="#3e9448"/>
<line x1="346.6" y1="324.2" x2="346.6" y2="327.8" stroke="#222" stroke-width="0.8" stroke-opacity="0.45"/>
<line x1="353.3" y1="260.9" x2="353.3" y2="317.3" stroke="#505050" stroke-width="1.2"/>
<line x1="351.55" y1="260.9" x2="355.05" y2="260.9" stroke="#333" stroke-width="1.1"/>
<line x1="351.55" y1="317.3" x2="355.05" y2="317.3" stroke="#333" stroke-width="1.1"/>
<circle cx="353.3" cy="289.7" r="1.8" fill="#44a6d6"/>
<line x1="353.3" y1="287.9" x2="353.3" y2="291.5" stroke="#222" stroke-width="0.8" stroke-opacity="0.45"/>
<line x1="359.6" y1="321.8" x2="359.6" y2="364.6" stroke="#505050" stroke-width="1.2"/>
<line x1="357.85" y1="321.8" x2="361.35" y2="321.8" stroke="#333" stroke-width="1.1"/>
<line x1="357.85" y1="364.6" x2="361.35" y2="364.6" stroke="#333" stroke-width="1.1"/>
<circle cx="359.6" cy="343.2" r="1.8" fill="#1a2a48"/>
<line x1="359.6" y1="341.4" x2="359.6" y2="345.0" stroke="#222" stroke-width="0.8" stroke-opacity="0.45"/>
<line x1="377.1" y1="319.6" x2="377.1" y2="336.2" stroke="#505050" stroke-width="1.2"/>
<line x1="375.35" y1="319.6" x2="378.85" y2="319.6" stroke="#333" stroke-width="1.1"/>
<line x1="375.35" y1="336.2" x2="378.85" y2="336.2" stroke="#333" stroke-width="1.1"/>
<circle cx="377.1" cy="327.7" r="1.8" fill="#d0d4ae"/>
<line x1="377.1" y1="325.9" x2="377.1" y2="329.5" stroke="#222" stroke-width="0.8" stroke-opacity="0.45"/>
<line x1="383.4" y1="311.5" x2="383.4" y2="327.4" stroke="#505050" stroke-width="1.2"/>
<line x1="381.65" y1="311.5" x2="385.15" y2="311.5" stroke="#333" stroke-width="1.1"/>
<line x1="381.65" y1="327.4" x2="385.15" y2="327.4" stroke="#333" stroke-width="1.1"/>
<circle cx="383.4" cy="318.7" r="1.8" fill="#3e9448"/>
<line x1="383.4" y1="316.9" x2="383.4" y2="320.5" stroke="#222" stroke-width="0.8" stroke-opacity="0.45"/>
<line x1="390.1" y1="304" x2="390.1" y2="324.1" stroke="#505050" stroke-width="1.2"/>
<line x1="388.35" y1="304" x2="391.85" y2="304" stroke="#333" stroke-width="1.1"/>
<line x1="388.35" y1="324.1" x2="391.85" y2="324.1" stroke="#333" stroke-width="1.1"/>
<circle cx="390.1" cy="313.7" r="1.8" fill="#44a6d6"/>
<line x1="390.1" y1="311.9" x2="390.1" y2="315.5" stroke="#222" stroke-width="0.8" stroke-opacity="0.45"/>
<line x1="396.6" y1="304.3" x2="396.6" y2="325.6" stroke="#505050" stroke-width="1.2"/>
<line x1="394.85" y1="304.3" x2="398.35" y2="304.3" stroke="#333" stroke-width="1.1"/>
<line x1="394.85" y1="325.6" x2="398.35" y2="325.6" stroke="#333" stroke-width="1.1"/>
<circle cx="396.6" cy="315.1" r="1.8" fill="#1a2a48"/>
<line x1="396.6" y1="313.3" x2="396.6" y2="316.90000000000003" stroke="#222" stroke-width="0.8" stroke-opacity="0.45"/>
<line x1="414" y1="286.8" x2="414" y2="322.3" stroke="#505050" stroke-width="1.2"/>
<line x1="412.25" y1="286.8" x2="415.75" y2="286.8" stroke="#333" stroke-width="1.1"/>
<line x1="412.25" y1="322.3" x2="415.75" y2="322.3" stroke="#333" stroke-width="1.1"/>
<circle cx="414" cy="304.7" r="1.8" fill="#d0d4ae"/>
<line x1="414" y1="302.9" x2="414" y2="306.5" stroke="#222" stroke-width="0.8" stroke-opacity="0.45"/>
<line x1="420.9" y1="314.8" x2="420.9" y2="337.3" stroke="#505050" stroke-width="1.2"/>
<line x1="419.15" y1="314.8" x2="422.65" y2="314.8" stroke="#333" stroke-width="1.1"/>
<line x1="419.15" y1="337.3" x2="422.65" y2="337.3" stroke="#333" stroke-width="1.1"/>
<circle cx="420.9" cy="325.4" r="1.8" fill="#3e9448"/>
<line x1="420.9" y1="323.59999999999997" x2="420.9" y2="327.2" stroke="#222" stroke-width="0.8" stroke-opacity="0.45"/>
<line x1="427.2" y1="309.4" x2="427.2" y2="339.1" stroke="#505050" stroke-width="1.2"/>
<line x1="425.45" y1="309.4" x2="428.95" y2="309.4" stroke="#333" stroke-width="1.1"/>
<line x1="425.45" y1="339.1" x2="428.95" y2="339.1" stroke="#333" stroke-width="1.1"/>
<circle cx="427.2" cy="324.5" r="1.8" fill="#44a6d6"/>
<line x1="427.2" y1="322.7" x2="427.2" y2="326.3" stroke="#222" stroke-width="0.8" stroke-opacity="0.45"/>
<line x1="433.9" y1="297.7" x2="433.9" y2="329.9" stroke="#505050" stroke-width="1.2"/>
<line x1="432.15" y1="297.7" x2="435.65" y2="297.7" stroke="#333" stroke-width="1.1"/>
<line x1="432.15" y1="329.9" x2="435.65" y2="329.9" stroke="#333" stroke-width="1.1"/>
<circle cx="433.9" cy="313.7" r="1.8" fill="#1a2a48"/>
<line x1="433.9" y1="311.9" x2="433.9" y2="315.5" stroke="#222" stroke-width="0.8" stroke-opacity="0.45"/>
<line x1="451.1" y1="278.2" x2="451.1" y2="349.1" stroke="#505050" stroke-width="1.2"/>
<line x1="449.35" y1="278.2" x2="452.85" y2="278.2" stroke="#333" stroke-width="1.1"/>
<line x1="449.35" y1="349.1" x2="452.85" y2="349.1" stroke="#333" stroke-width="1.1"/>
<circle cx="451.1" cy="314.1" r="1.8" fill="#d0d4ae"/>
<line x1="451.1" y1="312.3" x2="451.1" y2="315.90000000000003" stroke="#222" stroke-width="0.8" stroke-opacity="0.45"/>
<line x1="457.5" y1="297.0" x2="457.5" y2="333.6" stroke="#505050" stroke-width="1.2"/>
<line x1="455.75" y1="297.0" x2="459.25" y2="297.0" stroke="#333" stroke-width="1.1"/>
<line x1="455.75" y1="333.6" x2="459.25" y2="333.6" stroke="#333" stroke-width="1.1"/>
<circle cx="457.5" cy="315.6" r="1.8" fill="#3e9448"/>
<line x1="457.5" y1="313.8" x2="457.5" y2="317.40000000000003" stroke="#222" stroke-width="0.8" stroke-opacity="0.45"/>
<line x1="464.2" y1="257.4" x2="464.2" y2="396.8" stroke="#505050" stroke-width="1.2"/>
<line x1="462.45" y1="257.4" x2="465.95" y2="257.4" stroke="#333" stroke-width="1.1"/>
<line x1="462.45" y1="396.8" x2="465.95" y2="396.8" stroke="#333" stroke-width="1.1"/>
<circle cx="464.2" cy="323.2" r="1.8" fill="#44a6d6"/>
<line x1="464.2" y1="321.4" x2="464.2" y2="325.0" stroke="#222" stroke-width="0.8" stroke-opacity="0.45"/>
<line x1="470.8" y1="343.4" x2="470.8" y2="387.6" stroke="#505050" stroke-width="1.2"/>
<line x1="469.05" y1="343.4" x2="472.55" y2="343.4" stroke="#333" stroke-width="1.1"/>
<line x1="469.05" y1="387.6" x2="472.55" y2="387.6" stroke="#333" stroke-width="1.1"/>
<circle cx="470.8" cy="365.4" r="1.8" fill="#1a2a48"/>
<line x1="470.8" y1="363.59999999999997" x2="470.8" y2="367.2" stroke="#222" stroke-width="0.8" stroke-opacity="0.45"/>
<line x1="488.1" y1="386.4" x2="488.1" y2="397.5" stroke="#505050" stroke-width="1.2"/>
<line x1="486.35" y1="386.4" x2="489.85" y2="386.4" stroke="#333" stroke-width="1.1"/>
<line x1="486.35" y1="397.5" x2="489.85" y2="397.5" stroke="#333" stroke-width="1.1"/>
<circle cx="488.1" cy="392" r="1.8" fill="#d0d4ae"/>
<line x1="488.1" y1="390.2" x2="488.1" y2="393.8" stroke="#222" stroke-width="0.8" stroke-opacity="0.45"/>
<line x1="494.9" y1="358.2" x2="494.9" y2="394.3" stroke="#505050" stroke-width="1.2"/>
<line x1="493.15" y1="358.2" x2="496.65" y2="358.2" stroke="#333" stroke-width="1.1"/>
<line x1="493.15" y1="394.3" x2="496.65" y2="394.3" stroke="#333" stroke-width="1.1"/>
<circle cx="494.9" cy="376.2" r="1.8" fill="#3e9448"/>
<line x1="494.9" y1="374.4" x2="494.9" y2="378.0" stroke="#222" stroke-width="0.8" stroke-opacity="0.45"/>
<line x1="501.2" y1="358.5" x2="501.2" y2="388.4" stroke="#505050" stroke-width="1.2"/>
<line x1="499.45" y1="358.5" x2="502.95" y2="358.5" stroke="#333" stroke-width="1.1"/>
<line x1="499.45" y1="388.4" x2="502.95" y2="388.4" stroke="#333" stroke-width="1.1"/>
<circle cx="501.2" cy="373.1" r="1.8" fill="#44a6d6"/>
<line x1="501.2" y1="371.3" x2="501.2" y2="374.90000000000003" stroke="#222" stroke-width="0.8" stroke-opacity="0.45"/>
<line x1="507.6" y1="374.2" x2="507.6" y2="391.6" stroke="#505050" stroke-width="1.2"/>
<line x1="505.85" y1="374.2" x2="509.35" y2="374.2" stroke="#333" stroke-width="1.1"/>
<line x1="505.85" y1="391.6" x2="509.35" y2="391.6" stroke="#333" stroke-width="1.1"/>
<circle cx="507.6" cy="383" r="1.8" fill="#1a2a48"/>
<line x1="507.6" y1="381.2" x2="507.6" y2="384.8" stroke="#222" stroke-width="0.8" stroke-opacity="0.45"/>
<text x="335.3" y="382.2" font-size="7" fill="#333" stroke="#333" stroke-width="0.22">Number of mismatched donor HLAs</text>
<circle cx="338.5" cy="388.4" r="1.35" fill="#a01030"/>
<text x="343" y="391.2" font-size="7.7" fill="#333" stroke="#333" stroke-width="0.22">0</text>
<circle cx="355.4" cy="388.4" r="1.35" fill="#b4b8a4"/>
<text x="359.8" y="391.2" font-size="7.7" fill="#333" stroke="#333" stroke-width="0.22">1</text>
<circle cx="371.2" cy="388.4" r="1.35" fill="#3a9a4a"/>
<text x="376.2" y="391.2" font-size="7.7" fill="#333" stroke="#333" stroke-width="0.22">2</text>
<circle cx="387.5" cy="388.4" r="1.35" fill="#5a92c2"/>
<text x="392.6" y="391.2" font-size="7.7" fill="#333" stroke="#333" stroke-width="0.22">3</text>
<circle cx="404" cy="388.4" r="1.35" fill="#1a2030"/>
<text x="409" y="391.2" font-size="7.7" fill="#333" stroke="#333" stroke-width="0.22">4</text>
<g stroke="#111" stroke-width="1.25" fill="none">
<polyline points="11.64,130 11.64,218.4 206,218.4"/>
<polyline points="11.64,391 11.64,432.3 206,432.3"/>
</g>
<polygon points="211.6,218.4 204.2,215.3 205.5,218.4 204.2,221.5" fill="#111"/>
<polygon points="211.6,432.3 204.2,429.2 205.5,432.3 204.2,435.40000000000003" fill="#111"/>
<polygon points="11.64,124.3 8.84,131.3 11.64,130.3 14.440000000000001,131.3" fill="#111"/>
<polygon points="11.64,385.4 8.84,392.4 11.64,391.4 14.440000000000001,392.4" fill="#111"/>
<text x="214.90" y="220.6" font-size="9.3" fill="#222" stroke="#222" stroke-width="0.3" textLength="31.30" lengthAdjust="spacingAndGlyphs">Cumulative</text>
<text x="248.70" y="220.6" font-size="9.3" fill="#222" stroke="#222" stroke-width="0.3" textLength="11.25" lengthAdjust="spacingAndGlyphs">DSA</text>
<text x="261.80" y="220.6" font-size="9.3" fill="#222" stroke="#222" stroke-width="0.3" textLength="12.30" lengthAdjust="spacingAndGlyphs">MFI</text>
<text x="214.90" y="434.6" font-size="9.3" fill="#222" stroke="#222" stroke-width="0.3" textLength="31.30" lengthAdjust="spacingAndGlyphs">Cumulative</text>
<text x="248.70" y="434.6" font-size="9.3" fill="#222" stroke="#222" stroke-width="0.3" textLength="11.25" lengthAdjust="spacingAndGlyphs">DSA</text>
<text x="261.80" y="434.6" font-size="9.3" fill="#222" stroke="#222" stroke-width="0.3" textLength="12.30" lengthAdjust="spacingAndGlyphs">MFI</text>
<text transform="translate(14.6,120.00) rotate(-90)" font-size="9.3" fill="#222" stroke="#222" stroke-width="0.3" textLength="17.50" lengthAdjust="spacingAndGlyphs">2-hour</text>
<text transform="translate(14.6,101.40) rotate(-90)" font-size="9.3" fill="#222" stroke="#222" stroke-width="0.3" textLength="10.90" lengthAdjust="spacingAndGlyphs">CCI</text>
<text transform="translate(290.5,112.40) rotate(-90)" font-size="9.3" fill="#222" stroke="#222" stroke-width="0.3" textLength="18.40" lengthAdjust="spacingAndGlyphs">2-hour</text>
<text transform="translate(290.5,92.80) rotate(-90)" font-size="9.3" fill="#222" stroke="#222" stroke-width="0.3" textLength="11.50" lengthAdjust="spacingAndGlyphs">CCI</text>
<text transform="translate(295.2,340.70) rotate(-90)" font-size="9.3" fill="#222" stroke="#222" stroke-width="0.3" textLength="18.40" lengthAdjust="spacingAndGlyphs">2-hour</text>
<text transform="translate(295.2,321.10) rotate(-90)" font-size="9.3" fill="#222" stroke="#222" stroke-width="0.3" textLength="11.40" lengthAdjust="spacingAndGlyphs">CCI</text>
<text transform="translate(14.2,381.90) rotate(-90)" font-size="9.3" fill="#222" stroke="#222" stroke-width="0.3" textLength="31.20" lengthAdjust="spacingAndGlyphs">Cumulative</text>
<text transform="translate(14.2,348.80) rotate(-90)" font-size="9.3" fill="#222" stroke="#222" stroke-width="0.3" textLength="11.60" lengthAdjust="spacingAndGlyphs">C1q</text>
<text transform="translate(14.2,335.80) rotate(-90)" font-size="9.3" fill="#222" stroke="#222" stroke-width="0.3" textLength="11.70" lengthAdjust="spacingAndGlyphs">MFI</text>
</svg></div></body></html>
